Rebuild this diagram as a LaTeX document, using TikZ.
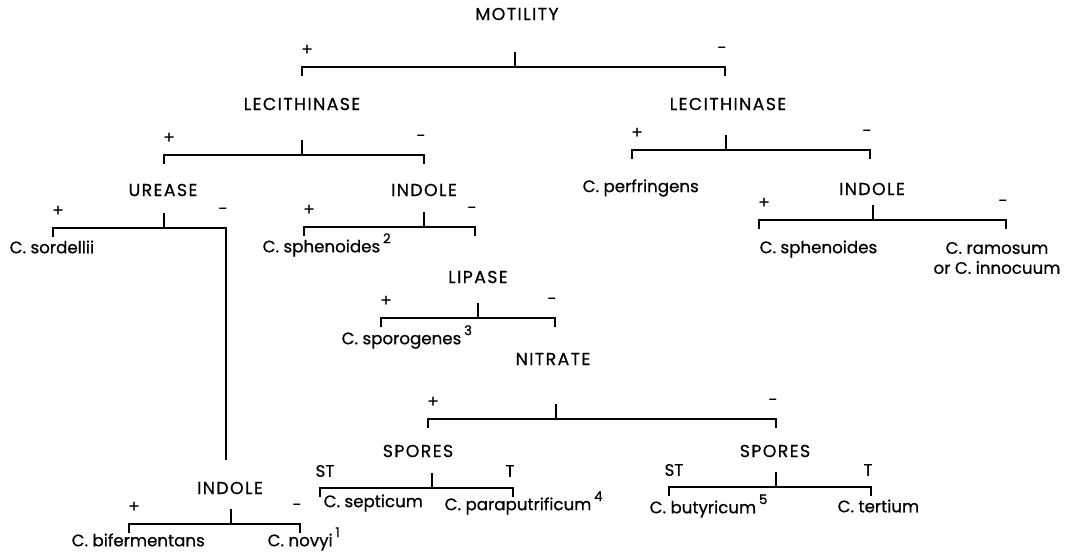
\documentclass[tikz,border=0pt]{standalone}
\usepackage{fontspec}
\setmainfont{Poppins}[FakeBold=0.6]
\usetikzlibrary{calc}
\usetikzlibrary{positioning}

\newcommand{\fnote}[1]{\,\raisebox{0.55em}{\fontsize{10}{10}\selectfont #1}}
\tikzset{
  test/.style={font=\fontsize{13}{15}\selectfont\addfontfeatures{LetterSpace=8}},
  taxon/.style={font=\fontsize{12.5}{15}\selectfont,anchor=west},
  sign/.style={font=\fontsize{12.5}{15}\selectfont},
  brk/.style={line width=1.4pt,line cap=rect},
}

\begin{document}
\begin{tikzpicture}[x=0.75pt,y=-0.75pt,line join=miter]
\useasboundingbox (0,0) rectangle (1068,552);
% tests
\node[test] (mot)  at (517,14)  {MOTILITY};
\node[test] (lecP) at (302,104) {LECITHINASE};
\node[test] (lecN) at (728,104) {LECITHINASE};
\node[test] (ure)  at (163,190) {UREASE};
\node[test] (indA) at (424,190) {INDOLE};
\node[test] (indB) at (872,189) {INDOLE};
\node[test] (lip)  at (478,277) {LIPASE};
\node[test] (nit)  at (553,359) {NITRATE};
\node[test] (spoA) at (418,451) {SPORES};
\node[test] (spoB) at (775,451) {SPORES};
\node[test] (indC) at (230,488) {INDOLE};
% species
\node[taxon] (sord) at (5,247)   {C. sordellii};
\node[taxon] (sphA) at (258,245) {C. sphenoides\fnote{2}};
\node[taxon] (perf) at (578,188) {C. perfringens};
\node[taxon] (sphB) at (755,249) {C. sphenoides};
\node[taxon,anchor=center,align=center] (ram) at (997,258) {C. ramosum\\or C. innocuum};
\node[taxon] (spor) at (337,337) {C. sporogenes\fnote{3}};
\node[taxon] (sept) at (319,503) {C. septicum};
\node[taxon] (para) at (440,503) {C. paraputrificum\fnote{4}};
\node[taxon] (buty) at (645,506) {C. butyricum\fnote{5}};
\node[taxon] (tert) at (833,506) {C. tertium};
\node[taxon] (bif)  at (67,540)  {C. bifermentans};
\node[taxon] (nov)  at (263,539) {C. novyi\fnote{1}};
% brackets with their outcome signs
\foreach \n/\xa/\xc/\xb/\y/\la/\lb in {
  mot/302/515/725/67/+/-, lecP/164/302/424/155/+/-, lecN/632/726/870/150/+/-,
  ure/53/164/226/228/+/-, indA/304/424/475/227/+/-, indB/759/873/1006/220/+/-,
  lip/381/478/555/318/+/-, nit/428/556/776/419/+/-, spoA/320/432/513/488/ST/T,
  spoB/669/776/871/487/ST/T, indC/129/231/300/524/+/-} {
  \coordinate (\n P) at (\xa,\y);
  \coordinate (\n N) at (\xb,\y);
  \draw[brk] (\n P) ++(0,8) -- (\n P) -- (\n N) -- ++(0,8);
  \draw[brk] (\xc,\y) -- ++(0,-14);
  \node[sign] (\n a) at (\xa+5,\y-17) {\la};
  \node[sign] (\n b) at (\xb-3,\y-17) {\lb};
}
% urease negative leads down to indole
\draw[brk] (ureN) -- ($(ureN |- indC.north)+(0,-18)$);
\end{tikzpicture}
\end{document}
